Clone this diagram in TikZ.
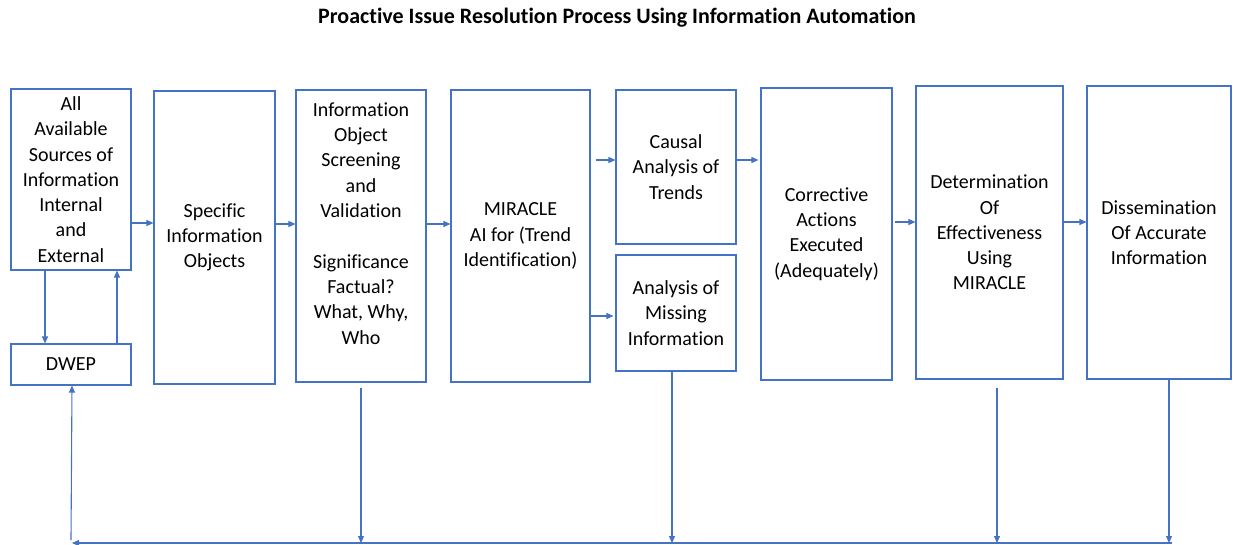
\documentclass[tikz,border=0pt]{standalone}
\usepackage{fontspec}
\setmainfont[Ligatures={NoCommon,NoRare,NoDiscretionary}]{Carlito}
\usetikzlibrary{arrows.meta,calc}
\definecolor{bc}{HTML}{4472C4}
\begin{document}
\begin{tikzpicture}[x=1pt,y=-1pt,
  box/.style={draw=bc, line width=1.1pt, align=center, inner sep=0pt,
    font=\fontsize{20}{25.3}\selectfont, text=black},
  arr/.style={draw=bc, line width=1.1pt, -{Triangle[length=7pt,width=6pt]}},
  ttl/.style={font=\fontsize{22}{26}\selectfont\bfseries, text=black}]
\useasboundingbox (0,0) rectangle (1233,545);
\node[ttl] (title) at (617,18) {Proactive Issue Resolution Process Using Information Automation};

\node[box, minimum width=120pt, minimum height=181pt] (src) at (71,179.5)
  {All\\Available\\Sources of\\Information\\Internal\\and\\External};
\node[box, minimum width=120pt, minimum height=41pt] (dwep) at (71,364.5) {DWEP};
\node[box, minimum width=121pt, minimum height=293pt] (spec) at (214.5,237.5)
  {Specific\\Information\\Objects};
\node[box, minimum width=130pt, minimum height=292pt] (screen) at (361,236)
  {Information\\Object\\Screening\\and\\Validation\\[25.3pt]Significance\\Factual?\\What, Why,\\Who\\\mbox{}};
\node[box, minimum width=139pt, minimum height=292pt] (mir) at (520.5,236)
  {MIRACLE\\AI for (Trend\\Identification)};
\node[box, minimum width=120pt, minimum height=154pt] (causal) at (676,167)
  {Causal\\Analysis of\\Trends};
\node[box, minimum width=120pt, minimum height=116pt] (miss) at (676,313)
  {Analysis of\\Missing\\Information};
\node[box, minimum width=131pt, minimum height=292pt] (corr) at (826.5,234)
  {Corrective\\Actions\\Executed\\(Adequately)};
\node[box, minimum width=147pt, minimum height=293pt] (det) at (989.5,232.5)
  {Determination\\Of\\Effectiveness\\Using\\MIRACLE};
\node[box, minimum width=144pt, minimum height=293pt] (diss) at (1159,232.5)
  {Dissemination\\Of Accurate\\Information};

% horizontal flow arrows
\coordinate (y1) at (0,223);
\coordinate (y2) at (0,224);
\coordinate (y3) at (0,160);
\coordinate (y4) at (0,316);
\coordinate (y5) at (0,222);
\draw[arr] (src.east |- y1) -- (spec.west |- y1);
\draw[arr] (spec.east |- y2) -- (screen.west |- y2);
\draw[arr] (screen.east |- y2) -- (mir.west |- y2);
\draw[arr] ([xshift=5pt]mir.east |- y3) -- (causal.west |- y3);
\draw[arr] (mir.east |- y4) -- ([xshift=-2pt]miss.west |- y4);
\draw[arr] (causal.east |- y3) -- ([xshift=-2pt]corr.west |- y3);
\draw[arr] ([xshift=2pt]corr.east |- y5) -- (det.west |- y5);
\draw[arr] (det.east |- y5) -- (diss.west |- y5);

% DWEP loop
\draw[arr] ([xshift=-26pt]src.south) -- ([xshift=-26pt]dwep.north);
\draw[arr] ([xshift=46pt]dwep.north) -- ([xshift=46pt]src.south);

% feedback bus
\coordinate (busR) at (1172,543);
\coordinate (busL) at (72,543);
\coordinate (upst) at (71,540);
\draw[arr] ([yshift=-5pt]screen.south) -- (screen.south |- busL);
\draw[arr] ([xshift=-4pt]miss.south) -- ([xshift=-4pt]miss.south |- busL);
\draw[arr] ([xshift=7.5pt,yshift=-8pt]det.south) -- ([xshift=7.5pt]det.south |- busL);
\draw[arr] ([xshift=10pt]diss.south) -- ([xshift=10pt]diss.south |- busL);
\draw[arr] (busR) -- (busL);
\draw[arr] (upst) -- ([xshift=1pt]dwep.south);
\end{tikzpicture}
\end{document}
